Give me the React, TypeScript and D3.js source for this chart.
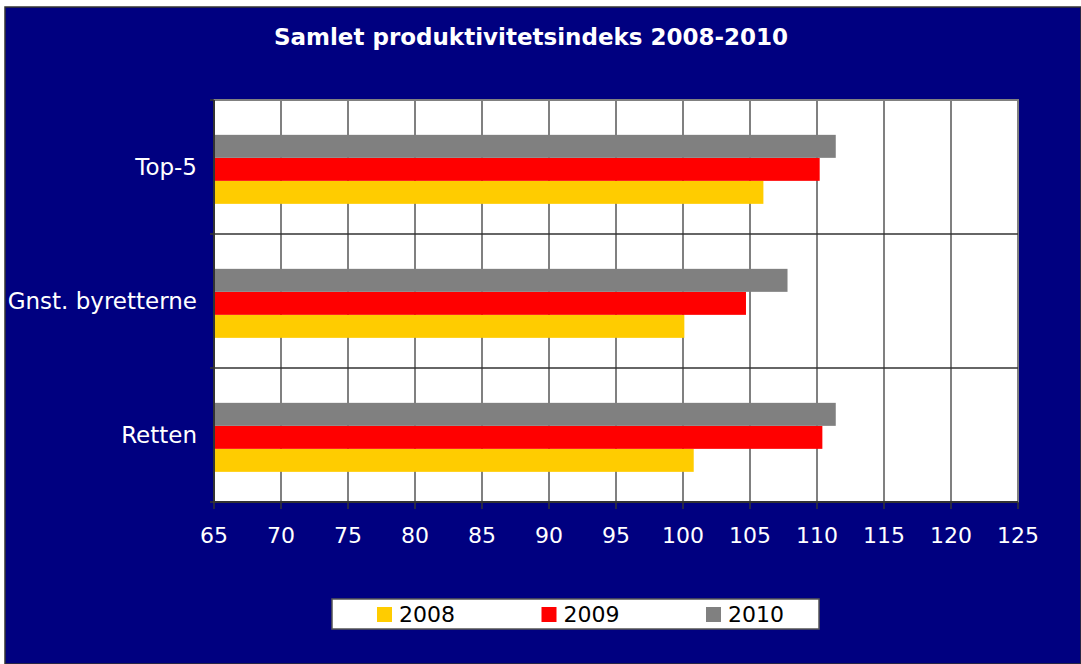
import React, { useEffect } from 'react';
import * as d3 from 'd3';

const categories = ['Top-5', 'Gnst. byretterne', 'Retten'];
const seriesNames = ['2008', '2009', '2010'];
const values2008 = [106.0, 100.1, 100.8];
const values2009 = [110.2, 104.7, 110.4];
const values2010 = [111.4, 107.8, 111.4];
const xTicks = [65, 70, 75, 80, 85, 90, 95, 100, 105, 110, 115, 120, 125];
const colors: Record<string, string> = { '2008': '#FFCC00', '2009': '#FF0000', '2010': '#808080' };

const W = 1081;
const H = 664;
const FONT = 'Verdana, "DejaVu Sans", sans-serif';

export default function App() {
  useEffect(() => {
    document.body.style.margin = '0';
  }, []);

  const left = 214, right = 1018, top = 100, bottom = 502;
  const x = d3.scaleLinear().domain([65, 125]).range([left, right]);
  const y = d3.scaleBand().domain(categories).range([top, bottom]);
  const bw = y.bandwidth();
  // bars stacked top to bottom: 2010, 2009, 2008
  const inner = d3.scaleBand().domain(['2010', '2009', '2008']).range([bw * 0.26, bw * 0.775]);

  const valuesBy: Record<string, number[]> = { '2008': values2008, '2009': values2009, '2010': values2010 };

  const legendX = d3.scalePoint().domain(seriesNames).range([377, 706]);

  return (
    <svg width={W} height={H} style={{ display: 'block', fontFamily: FONT }}>
      <rect x={0} y={0} width={W} height={H} fill="#fff" />
      <rect x={5} y={7} width={W - 5} height={H - 7} fill="#000080" stroke="#333" strokeWidth={1.5} />
      <text x={531} y={45} textAnchor="middle" fill="#fff" fontWeight="bold" fontSize={23}>
        Samlet produktivitetsindeks 2008-2010
      </text>

      {/* plot area */}
      <rect x={left} y={top} width={right - left} height={bottom - top} fill="#fff" stroke="#808080" strokeWidth={2} />
      {xTicks.slice(1, -1).map(t => (
        <line key={t} x1={x(t)} x2={x(t)} y1={top} y2={bottom} stroke="#808080" strokeWidth={2} />
      ))}
      {categories.slice(1).map(c => (
        <line key={c} x1={left} x2={right} y1={y(c)} y2={y(c)} stroke="#333" strokeWidth={1.5} />
      ))}

      {/* bars */}
      {categories.map((c, i) => (
        <g key={c}>
          {seriesNames.map(s => (
            <rect
              key={s}
              x={x(65)}
              y={(y(c) as number) + (inner(s) as number)}
              width={x(valuesBy[s][i]) - x(65)}
              height={inner.bandwidth()}
              fill={colors[s]}
            />
          ))}
        </g>
      ))}

      {/* axes */}
      <line x1={left} x2={left} y1={top} y2={bottom} stroke="#333" strokeWidth={2} />
      <line x1={left} x2={right} y1={bottom} y2={bottom} stroke="#333" strokeWidth={2} />
      {[...categories.map(c => y(c) as number), bottom].map((v, i) => (
        <line key={i} x1={left - 4} x2={left} y1={v} y2={v} stroke="#333" strokeWidth={1.5} />
      ))}
      {xTicks.map(t => (
        <g key={t}>
          <line x1={x(t)} x2={x(t)} y1={bottom} y2={bottom + 7} stroke="#333" strokeWidth={1.5} />
          <text x={x(t)} y={543} textAnchor="middle" fill="#fff" fontSize={22}>
            {t}
          </text>
        </g>
      ))}
      {categories.map(c => (
        <text key={c} x={197} y={(y(c) as number) + bw / 2 + 8} textAnchor="end" fill="#fff" fontSize={23}>
          {c}
        </text>
      ))}

      {/* legend */}
      <rect x={332} y={599} width={487} height={30} fill="#fff" stroke="#555" strokeWidth={1.5} />
      {seriesNames.map(s => (
        <g key={s}>
          <rect x={legendX(s)} y={607} width={15} height={15} fill={colors[s]} />
          <text x={(legendX(s) as number) + 22} y={622} fill="#000" fontSize={22}>
            {s}
          </text>
        </g>
      ))}
    </svg>
  );
}
